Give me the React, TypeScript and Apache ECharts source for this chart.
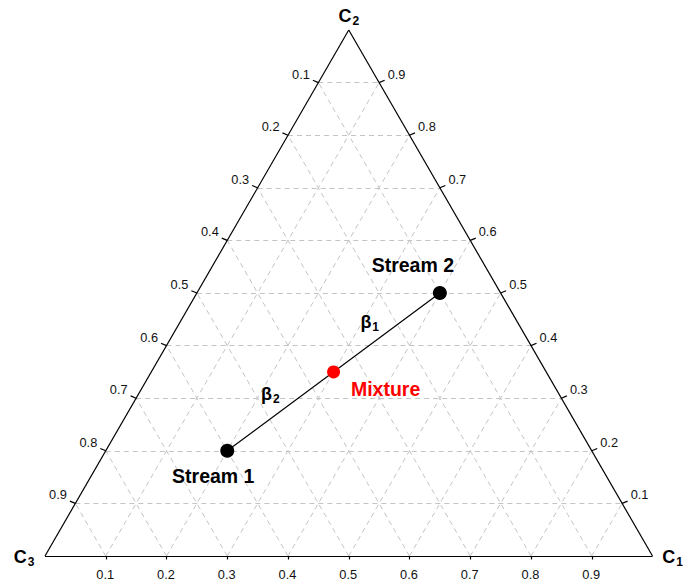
import React, { useEffect, useRef } from "react";
import * as echarts from "echarts";

// ---- data ----
const tickValues = [0.1, 0.2, 0.3, 0.4, 0.5, 0.6, 0.7, 0.8, 0.9];
const tickLabels = ["0.1", "0.2", "0.3", "0.4", "0.5", "0.6", "0.7", "0.8", "0.9"];
const vertexSubs = ["1", "2", "3"]; // C1 right, C2 top, C3 left
const streamNames = ["Stream 1", "Stream 2"];
const streamC1 = [0.2, 0.4];
const streamC2 = [0.2, 0.5];
const streamC3 = [0.6, 0.1];
const mixtureName = "Mixture";
const mixtureC1 = [0.3];
const mixtureC2 = [0.35];
const mixtureC3 = [0.35];
const betaSubs = ["1", "2"];

// ---- geometry helpers ----
const H = Math.sqrt(3) / 2;
const PX = 607.5; // pixels per data unit
const toXY = (c1: number, c2: number) => [c1 + c2 / 2, c2 * H];
const px = (d: number) => d / PX;

const FONT = "'Liberation Sans', Arial, sans-serif";

export default function App() {
  const ref = useRef<HTMLDivElement>(null);
  useEffect(() => {
    if (!ref.current) return;
    const chart = echarts.init(ref.current, null, { renderer: "svg" });

    const gridLines: any[] = [];
    tickValues.forEach((v) => {
      gridLines.push({ coords: [toXY(0, v), toXY(1 - v, v)] });
      gridLines.push({ coords: [toXY(v, 0), toXY(v, 1 - v)] });
      gridLines.push({ coords: [toXY(1 - v, 0), toXY(0, 1 - v)] });
    });

    const edges = [
      { coords: [toXY(0, 0), toXY(1, 0)] },
      { coords: [toXY(1, 0), toXY(0, 1)] },
      { coords: [toXY(0, 1), toXY(0, 0)] },
    ];

    const ticks: any[] = [];
    const leftPts: any[] = [];
    const rightPts: any[] = [];
    const bottomPts: any[] = [];
    tickValues.forEach((v, i) => {
      const l = toXY(0, 1 - v);
      ticks.push({ coords: [l, [l[0] - px(5.5), l[1] + px(2.3)]] });
      leftPts.push([l[0], l[1], tickLabels[i]]);
      const r = toXY(1 - v, v);
      ticks.push({ coords: [r, [r[0] + px(5.5), r[1] + px(2.3)]] });
      rightPts.push([r[0], r[1], tickLabels[i]]);
      const b = toXY(v, 0);
      ticks.push({ coords: [b, [b[0], b[1] - px(3.5)]] });
      bottomPts.push([b[0], b[1], tickLabels[i]]);
    });

    const tickLabelStyle = {
      show: true,
      formatter: (p: any) => p.value[2],
      fontFamily: FONT,
      fontSize: 12.8,
      color: "#111",
    };

    const s1 = toXY(streamC1[0], streamC2[0]);
    const s2 = toXY(streamC1[1], streamC2[1]);
    const mx = toXY(mixtureC1[0], mixtureC2[0]);

    const vertexData = [
      { value: toXY(1, 0), sub: vertexSubs[0], offset: [20, 1] },
      { value: toXY(0, 1), sub: vertexSubs[1], offset: [0, -14] },
      { value: toXY(0, 0), sub: vertexSubs[2], offset: [-21, 1] },
    ];

    const betaData = [
      {
        value: [(s2[0] + mx[0]) / 2, (s2[1] + mx[1]) / 2],
        sub: betaSubs[0],
        offset: [-17, -10],
      },
      {
        value: [(s1[0] + mx[0]) / 2, (s1[1] + mx[1]) / 2],
        sub: betaSubs[1],
        offset: [-10, -17],
      },
    ];

    const richSub = (size: number, subSize: number) => ({
      b: { fontFamily: FONT, fontSize: size, fontWeight: "bold", color: "#000" },
      s: {
        fontFamily: FONT,
        fontSize: subSize,
        fontWeight: "bold",
        color: "#000",
        padding: [9, 0, 0, 1],
      },
    });

    const hidden = { color: "transparent", opacity: 1 };

    const option: any = {
      animation: false,
      backgroundColor: "#fff",
      grid: { left: 45, right: 30.5, top: 30, bottom: 29 },
      xAxis: { type: "value", min: 0, max: 1, show: false },
      yAxis: { type: "value", min: 0, max: H, show: false },
      series: [
        {
          type: "lines",
          coordinateSystem: "cartesian2d",
          clip: false,
          silent: true,
          z: 1,
          lineStyle: { color: "#c4c4c4", width: 1, type: [5, 4], opacity: 1 },
          data: gridLines,
        },
        {
          type: "lines",
          coordinateSystem: "cartesian2d",
          clip: false,
          silent: true,
          z: 2,
          lineStyle: { color: "#000", width: 1.2, opacity: 1 },
          data: edges.concat(ticks),
        },
        {
          type: "scatter",
          clip: false,
          silent: true,
          symbolSize: 1,
          itemStyle: hidden,
          data: leftPts,
          label: { ...tickLabelStyle, position: [-8, -8], align: "right", verticalAlign: "middle" },
        },
        {
          type: "scatter",
          clip: false,
          silent: true,
          symbolSize: 1,
          itemStyle: hidden,
          data: rightPts,
          label: { ...tickLabelStyle, position: [9, -8], align: "left", verticalAlign: "middle" },
        },
        {
          type: "scatter",
          clip: false,
          silent: true,
          symbolSize: 1,
          itemStyle: hidden,
          data: bottomPts,
          label: { ...tickLabelStyle, position: [0, 19], align: "center", verticalAlign: "middle" },
        },
        {
          type: "line",
          clip: false,
          silent: true,
          z: 3,
          symbol: "none",
          lineStyle: { color: "#000", width: 1.2 },
          data: [s1, s2],
        },
        {
          type: "scatter",
          clip: false,
          silent: true,
          z: 5,
          symbolSize: 14,
          itemStyle: { color: "#000", opacity: 1 },
          data: [
            { value: s1, label: { offset: [-14, 25] }, name: streamNames[0], c3: streamC3[0] },
            { value: s2, label: { offset: [-27, -28] }, name: streamNames[1], c3: streamC3[1] },
          ],
          label: {
            show: true,
            position: "inside",
            formatter: (p: any) => p.name,
            fontFamily: FONT,
            fontSize: 19.5,
            fontWeight: "bold",
            color: "#000",
          },
        },
        {
          type: "scatter",
          clip: false,
          silent: true,
          z: 5,
          symbolSize: 13,
          itemStyle: { color: "#ff0000", opacity: 1 },
          data: [{ value: mx, name: mixtureName, c3: mixtureC3[0] }],
          label: {
            show: true,
            position: "inside",
            offset: [52, 17],
            formatter: (p: any) => p.name,
            fontFamily: FONT,
            fontSize: 19.5,
            fontWeight: "bold",
            color: "#ff0000",
          },
        },
        {
          type: "scatter",
          clip: false,
          silent: true,
          symbolSize: 1,
          itemStyle: hidden,
          data: vertexData.map((d) => ({
            value: d.value,
            label: { offset: d.offset, formatter: "{b|C}{s|" + d.sub + "}" },
          })),
          label: { show: true, position: "inside", rich: richSub(18, 12) },
        },
        {
          type: "scatter",
          clip: false,
          silent: true,
          symbolSize: 1,
          itemStyle: hidden,
          data: betaData.map((d) => ({
            value: d.value,
            label: { offset: d.offset, formatter: "{b|β}{s|" + d.sub + "}" },
          })),
          label: { show: true, position: "inside", rich: richSub(18, 12) },
        },
      ],
    };
    chart.setOption(option);
    return () => chart.dispose();
  }, []);
  return (
    <div
      ref={ref}
      style={{ position: "fixed", left: 0, top: 0, width: 683, height: 585, background: "#fff" }}
    />
  );
}
